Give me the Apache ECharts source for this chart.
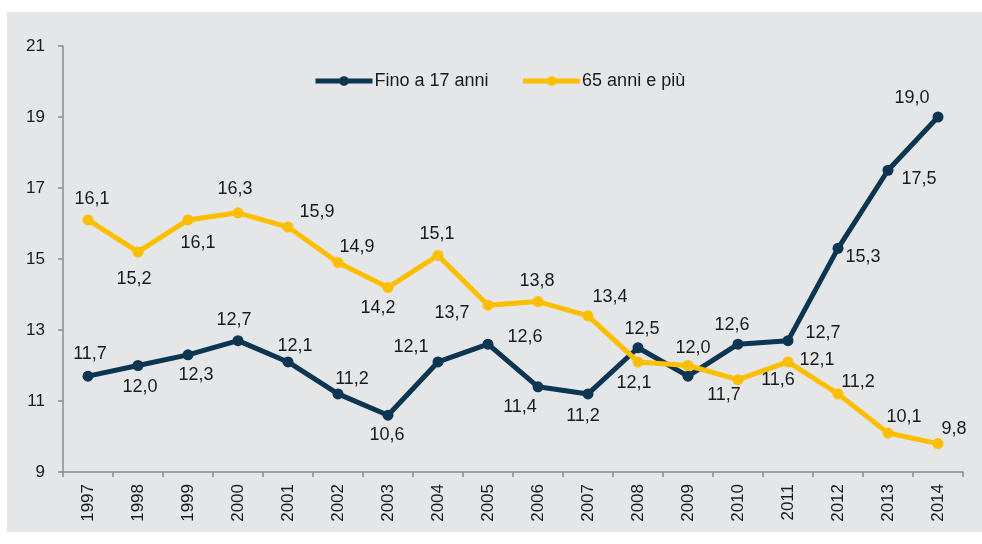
<!DOCTYPE html>
<html>
<head>
<meta charset="utf-8">
<script src="https://cdn.jsdelivr.net/npm/echarts@6/dist/echarts.min.js"></script>
<style>
  html, body { margin: 0; padding: 0; background: #ffffff; }
  #main { width: 982px; height: 544px; }
</style>
</head>
<body>
<div id="main"></div>
<script>
// dati
var anni = ['1997','1998','1999','2000','2001','2002','2003','2004','2005','2006','2007','2008','2009','2010','2011','2012','2013','2014'];
var fino17 = [11.7, 12.0, 12.3, 12.7, 12.1, 11.2, 10.6, 12.1, 12.6, 11.4, 11.2, 12.5, 11.7, 12.6, 12.7, 15.3, 17.5, 19.0];
var over65 = [16.1, 15.2, 16.1, 16.3, 15.9, 14.9, 14.2, 15.1, 13.7, 13.8, 13.4, 12.1, 12.0, 11.6, 12.1, 11.2, 10.1, 9.8];
var yTicks = { min: 9, max: 21, interval: 2 };

// posizione delle etichette rispetto al punto (dx, dy in px)
var offFino17 = [[2,-22],[2,22],[8,20],[-4,-21],[7,-16],[14,-15],[-1,20],[-27,-15],[37,-7],[-18,20],[-5,22],[4,-19],[36,19],[-6,-19],[35,-8],[25,9],[31,9],[-26,-19]];
var offOver65 = [[4,-21],[-4,27],[10,23],[-3,-24],[29,-15],[19,-16],[-10,21],[-1,-21],[-36,8],[-1,-21],[22,-19],[-4,21],[5,-17],[40,0],[29,-2],[20,-12],[16,-16],[16,-15]];

function conEtichette(valori, offset) {
    return valori.map(function (v, i) {
        return { value: v, label: { offset: offset[i] } };
    });
}

var fmt = function (p) { return p.value.toFixed(1).replace('.', ','); };
var testo = '#1a1a1a';
var font = 'Liberation Sans, Arial, sans-serif';

var myChart = echarts.init(document.getElementById('main'));
var option = {
    animation: false,
    backgroundColor: '#ffffff',
    textStyle: { fontFamily: font },
    graphic: [{
        type: 'rect',
        z: -10,
        silent: true,
        shape: { x: 7, y: 12, width: 975, height: 520 },
        style: { fill: '#e5e6e8' }
    }],
    legend: {
        left: 308,
        top: 67,
        itemWidth: 57,
        itemHeight: 12,
        itemGap: 32,
        lineStyle: { width: 5 },
        textStyle: { fontSize: 18, color: testo, fontFamily: font, padding: [0, 0, 0, -3] }
    },
    grid: { left: 63, right: 19, top: 46, bottom: 72 },
    xAxis: {
        type: 'category',
        data: anni,
        boundaryGap: true,
        axisLine: { lineStyle: { color: '#8a8a8a', width: 1.5 } },
        axisTick: { show: true, length: 5, lineStyle: { color: '#8a8a8a', width: 1.5 } },
        axisLabel: { rotate: 90, margin: 12, fontSize: 17, color: testo, fontFamily: font }
    },
    yAxis: {
        type: 'value',
        min: yTicks.min,
        max: yTicks.max,
        interval: yTicks.interval,
        splitLine: { show: false },
        axisLine: { show: true, lineStyle: { color: '#8a8a8a', width: 1.5 } },
        axisTick: { show: true, length: 5, lineStyle: { color: '#8a8a8a', width: 1.5 } },
        axisLabel: { margin: 18, fontSize: 17, color: testo, fontFamily: font }
    },
    series: [
        {
            name: 'Fino a 17 anni',
            type: 'line',
            data: conEtichette(fino17, offFino17),
            symbol: 'circle',
            symbolSize: 11,
            itemStyle: { color: '#0b3550' },
            lineStyle: { color: '#0b3550', width: 5 },
            label: { show: true, position: 'inside', formatter: fmt, fontSize: 18, color: testo, fontFamily: font }
        },
        {
            name: '65 anni e più',
            type: 'line',
            data: conEtichette(over65, offOver65),
            symbol: 'circle',
            symbolSize: 11,
            itemStyle: { color: '#fbbf00' },
            lineStyle: { color: '#fbbf00', width: 5 },
            label: { show: true, position: 'inside', formatter: fmt, fontSize: 18, color: testo, fontFamily: font }
        }
    ]
};
myChart.setOption(option);
</script>
</body>
</html>
